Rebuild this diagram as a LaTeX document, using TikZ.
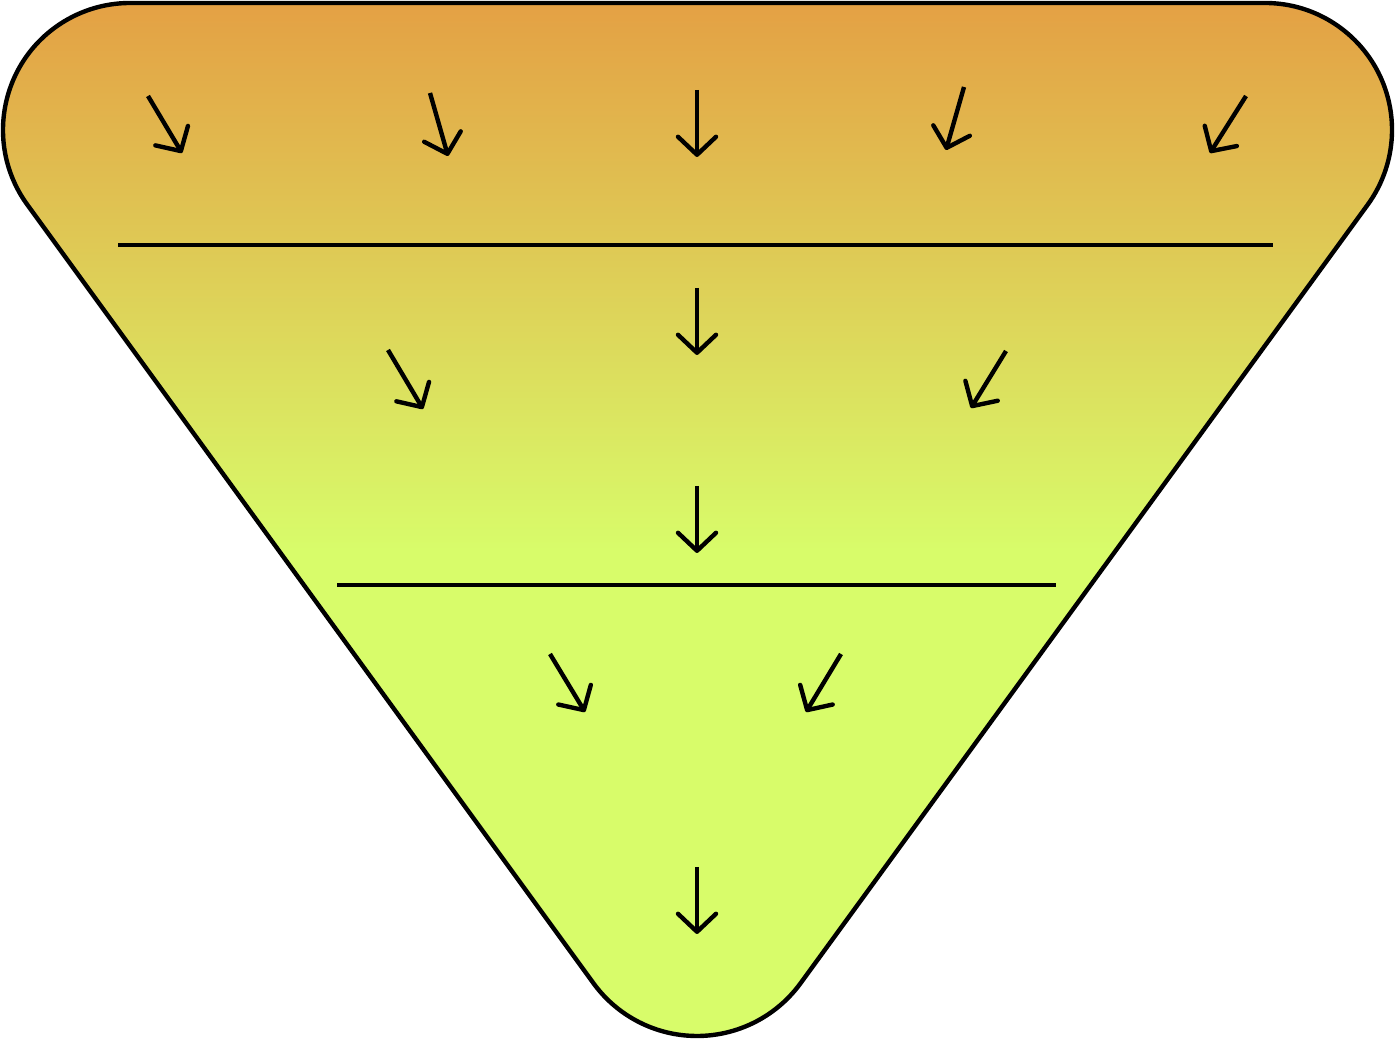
\documentclass[tikz,border=0pt]{standalone}
\usepackage{xcolor}
\usepackage{tikz}
\usetikzlibrary{arrows.meta}
\definecolor{funneltop}{RGB}{228,160,68}
\definecolor{funnelbot}{RGB}{216,252,106}
\colorlet{outline}{black}
\newcommand{\funnelpath}{%
  (130,1037) -- (1265,1037)
  arc[start angle=90, end angle=-36.1, radius=127]
  -- ([shift={(-36.1:128)}]697,132)
  arc[start angle=-36.1, end angle=-143.9, radius=128]
  -- ([shift={(-143.9:127)}]130,910)
  arc[start angle=-143.9, end angle=-270, radius=127] -- cycle}
\begin{document}
\begin{tikzpicture}[x=0.02cm,y=0.02cm,line width=2.5pt,
  >={Straight Barb[length=3.6mm,width=7.6mm,line cap=round,line join=round]}]
\useasboundingbox (0,0) rectangle (1395,1040);
% ---- funnel body: gradient down to the second band, flat below ----
\begin{scope}
\clip \funnelpath;
\fill[funnelbot] (0,0) rectangle (1395,1040);
\shade[top color=funneltop,bottom color=funnelbot] (0,490) rectangle (1395,1040);
\end{scope}
\draw[outline,line join=round] \funnelpath;
% ---- band separators ----
\draw (118,795) -- (1273,795);
\draw (337,455) -- (1056,455);
% ---- flow arrows, start -> tip ----
\foreach \xa/\ya/\xb/\yb in {148/944/182/887, 430/947/448/884, 697/950/697/883,
    964/953/946/890, 1246/944/1210/887,
    697/752/697/685, 388/690/423/631, 1006/689/971/632,
    697/554/697/487,
    550/386/585/328, 841/386/806/328,
    697/173/697/106}
  \draw[->] (\xa,\ya) -- (\xb,\yb);
\end{tikzpicture}
\end{document}
